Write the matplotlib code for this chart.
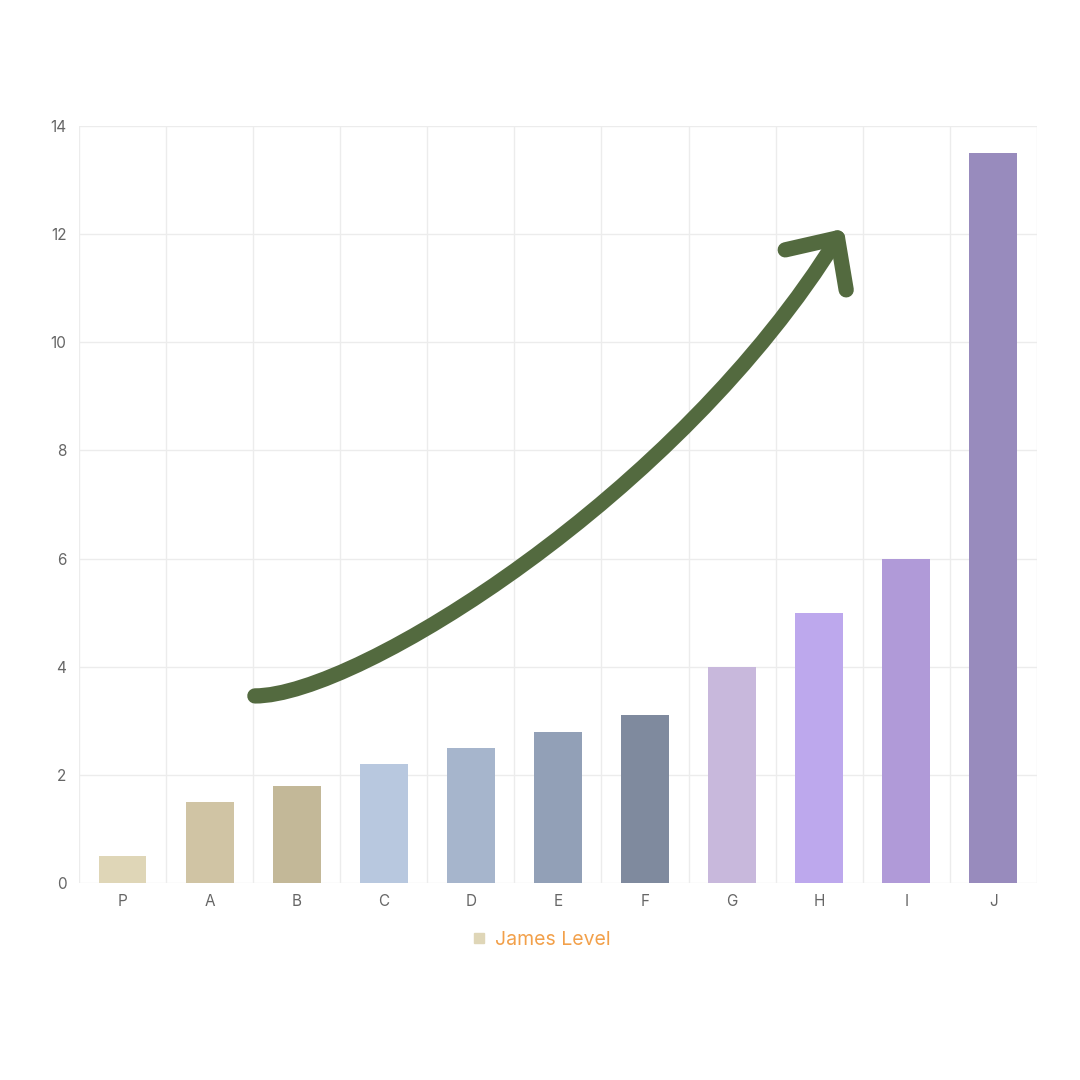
import matplotlib.pyplot as plt
import numpy as np
from matplotlib.path import Path
from matplotlib.patches import PathPatch
from matplotlib.lines import Line2D

plt.rcParams['font.family'] = ['Inter', 'DejaVu Sans']

# Data
categories = ['P', 'A', 'B', 'C', 'D', 'E', 'F', 'G', 'H', 'I', 'J']
values = [0.5, 1.5, 1.8, 2.2, 2.5, 2.8, 3.1, 4.0, 5.0, 6.0, 13.5]
bar_colors = ['#dfd6b7', '#d0c4a4', '#c3b898', '#b8c8df', '#a6b5cc', '#92a0b7',
              '#7f8a9e', '#c8b8dc', '#bda8ed', '#b09ad8', '#988bbd']
series_name = 'James Level'
y_ticks = [0, 2, 4, 6, 8, 10, 12, 14]

# Trend arrow annotation (data coords): cubic bezier + head
arrow_curve = [(1.52, 3.46), (2.70, 3.46), (6.40, 7.20), (8.21, 11.93)]
arrow_head = [(7.61, 11.71), (8.21, 11.93), (8.31, 10.97)]
arrow_color = '#536a3f'

fig = plt.figure(figsize=(10.8, 10.8), dpi=100)
ax = fig.add_axes([0.0731, 0.1824, 0.887, 0.7009])

x = np.arange(len(categories))
ax.bar(x, values, width=0.55, color=bar_colors, zorder=2)

ax.set_xlim(-0.5, len(categories) - 0.5)
ax.set_ylim(0, 14)
ax.set_yticks(y_ticks)
ax.set_xticks(x)
ax.set_xticklabels(categories)
ax.set_xticks(np.arange(-0.5, len(categories)), minor=True)

ax.grid(axis='y', color='#ececec', linewidth=1, zorder=0)
ax.grid(axis='x', which='minor', color='#ececec', linewidth=1, zorder=0)
ax.tick_params(axis='x', which='major', length=0, pad=8, labelsize=11, labelcolor='#666666')
ax.tick_params(axis='x', which='minor', length=0)
ax.tick_params(axis='y', length=0, pad=9, labelsize=11, labelcolor='#666666')
for s in ax.spines.values():
    s.set_visible(False)

# Arrow
curve = Path(arrow_curve, [Path.MOVETO, Path.CURVE4, Path.CURVE4, Path.CURVE4])
ax.add_patch(PathPatch(curve, facecolor='none', edgecolor=arrow_color, lw=11,
                       capstyle='round', joinstyle='round', zorder=3))
hx, hy = zip(*arrow_head)
ax.plot(hx, hy, color=arrow_color, lw=11, solid_capstyle='round',
        solid_joinstyle='round', zorder=3)

# Legend
handle = Line2D([], [], linestyle='none', marker='s', markersize=6.5,
                markerfacecolor=bar_colors[0], markeredgecolor=bar_colors[0])
leg = fig.legend([handle], [series_name], loc='center', bbox_to_anchor=(0.5, 0.13),
                 frameon=False, fontsize=14, handletextpad=0.3, handlelength=1)
for t in leg.get_texts():
    t.set_color('#f2a04a')

fig.savefig('out.png', dpi=100)
